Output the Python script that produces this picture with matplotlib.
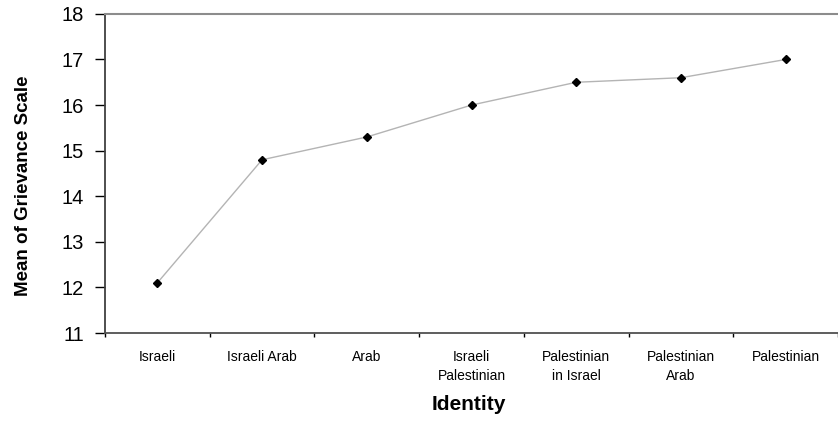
import matplotlib.pyplot as plt
import numpy as np

plt.rcParams['font.family'] = ['Liberation Sans', 'DejaVu Sans']

identities = ['Israeli', 'Israeli Arab', 'Arab', 'Israeli\nPalestinian',
              'Palestinian\nin Israel', 'Palestinian\nArab', 'Palestinian']
grievance_means = [12.1, 14.8, 15.3, 16.0, 16.5, 16.6, 17.0]

fig = plt.figure(figsize=(8.38, 4.21), dpi=100)
ax = fig.add_axes([0.1253, 0.209, 0.8747, 0.758])

x = np.arange(len(identities))
ax.plot(x, grievance_means, color='#b4b4b4', linewidth=1.0, zorder=2)
ax.plot(x, grievance_means, linestyle='none', marker='D', markersize=4.5,
        color='black', zorder=3)

ax.set_xlim(-0.5, len(identities) - 0.5)
ax.set_ylim(11, 18)
ax.set_yticks(range(11, 19))
ax.tick_params(axis='y', labelsize=14.5, length=7, width=1, direction='out', pad=8)

ax.set_xticks(x)
ax.set_xticklabels(identities, fontsize=10, linespacing=1.45)
ax.tick_params(axis='x', which='major', length=0, pad=12)
ax.set_xticks(np.arange(-0.5, len(identities)), minor=True)
ax.tick_params(axis='x', which='minor', length=3, width=1, direction='out')

ax.spines['right'].set_visible(False)
ax.spines['top'].set_color('#8c8c8c')
ax.spines['top'].set_linewidth(1.5)
ax.spines['left'].set_color('#404040')
ax.spines['bottom'].set_color('#505050')
ax.spines['left'].set_linewidth(1.3)
ax.spines['bottom'].set_linewidth(1.3)

ax.set_xlabel('Identity', fontsize=15, fontweight='bold')
ax.xaxis.set_label_coords(0.497, -0.195)
ax.set_ylabel('Mean of Grievance Scale', fontsize=13.5, fontweight='bold')
ax.yaxis.set_label_coords(-0.1, 0.46)

plt.savefig('out.png', dpi=100)
